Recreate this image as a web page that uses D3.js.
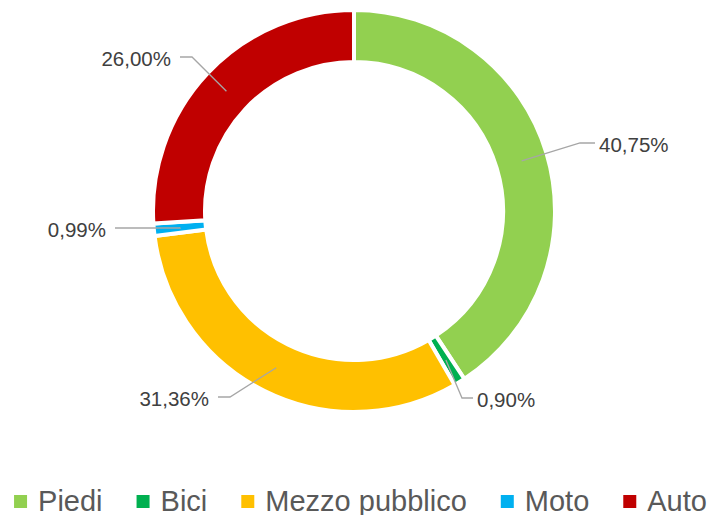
<!DOCTYPE html>
<html>
<head>
<meta charset="utf-8">
<script src="https://cdn.jsdelivr.net/npm/d3@7"></script>
<style>
  body { margin: 0; background: #fff; }
  svg { display: block; font-family: "Liberation Sans", Arial, sans-serif; }
</style>
</head>
<body>
<svg id="chart" width="715" height="515"></svg>
<script>
// data
var categories = ["Piedi", "Bici", "Mezzo pubblico", "Moto", "Auto"];
var values = [40.75, 0.90, 31.36, 0.99, 26.00];
var labels = ["40,75%", "0,90%", "31,36%", "0,99%", "26,00%"];
var colors = ["#92D050", "#00B050", "#FFC000", "#00B0F0", "#C00000"];

// label layout: elbow point, end of horizontal leader, side
var labelLayout = [
    { elbow: [580, 143], end: [595, 143], side: "right" },
    { elbow: [462, 398], end: [473, 398], side: "right" },
    { elbow: [230, 397], end: [218, 397], side: "left" },
    { elbow: [180, 228], end: [115, 228], side: "left" },
    { elbow: [192, 57],  end: [180, 57],  side: "left" }
];

var svg = d3.select("#chart");
var cx = 354, cy = 211;
var outerR = 201, innerR = 149;

var data = categories.map(function(c, i) {
    return { name: c, value: values[i], label: labels[i], color: colors[i], i: i };
});

var pie = d3.pie().sort(null).value(function(d) { return d.value; });
var arc = d3.arc().innerRadius(innerR).outerRadius(outerR);
var midArc = d3.arc().innerRadius(175).outerRadius(175);

var g = svg.append("g").attr("transform", "translate(" + cx + "," + cy + ")");

var arcs = pie(data);

g.selectAll("path.slice")
    .data(arcs)
    .enter().append("path")
    .attr("class", "slice")
    .attr("d", arc)
    .attr("fill", function(d) { return d.data.color; })
    .attr("stroke", "#fff")
    .attr("stroke-width", 4)
    .attr("stroke-linejoin", "miter");

// leader lines + labels
arcs.forEach(function(d, i) {
    var c = midArc.centroid(d);
    var start = [c[0] + cx, c[1] + cy];
    var lay = labelLayout[i];
    svg.append("polyline")
        .attr("points", [start, lay.elbow, lay.end].map(function(p) { return p.join(","); }).join(" "))
        .attr("fill", "none")
        .attr("stroke", "#A6A6A6")
        .attr("stroke-width", 1.3);

    svg.append("text")
        .attr("x", lay.side == "right" ? lay.end[0] + 4 : lay.end[0] - 9)
        .attr("y", lay.end[1] + 2)
        .attr("dy", "0.35em")
        .attr("text-anchor", lay.side == "right" ? "start" : "end")
        .style("font-size", "20.5px")
        .style("fill", "#404040")
        .text(d.data.label);
});

// legend
var legend = svg.append("g");
var items = legend.selectAll("g.item")
    .data(data)
    .enter().append("g")
    .attr("class", "item");

items.append("rect")
    .attr("width", 13)
    .attr("height", 13)
    .attr("y", 495)
    .attr("fill", function(d) { return d.color; });

items.append("text")
    .attr("x", 24)
    .attr("y", 510.5)
    .style("font-size", "29px")
    .style("fill", "#595959")
    .text(function(d) { return d.name; });

var gap = 34, pos = 0, offsets = [];
items.each(function(d, i) {
    var w = d3.select(this).select("text").node().getComputedTextLength();
    offsets.push(pos);
    pos += 24 + w + gap;
});
var total = pos - gap;
var startX = 360.5 - total / 2;
items.attr("transform", function(d, i) { return "translate(" + (startX + offsets[i]) + ",0)"; });
</script>
</body>
</html>
